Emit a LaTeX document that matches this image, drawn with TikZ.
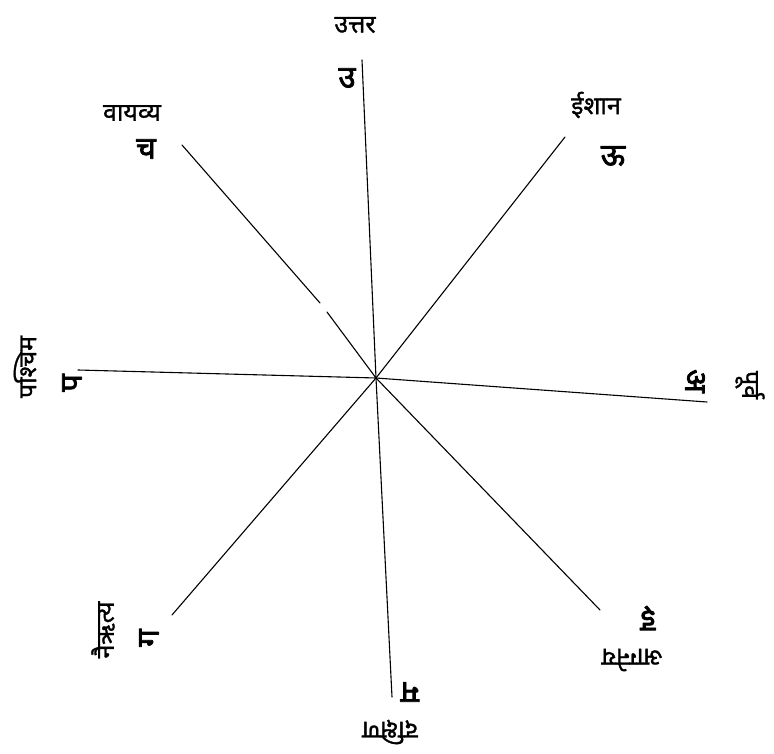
\documentclass[tikz,border=0pt]{standalone}
\usepackage{fontspec}
\newfontfamily\deva[Script=Devanagari,FakeBold=1.2]{Noto Sans}
\newfontfamily\devab[Script=Devanagari,FakeBold=2.5]{Noto Sans}
\begin{document}
\begin{tikzpicture}[x=1pt,y=-1pt,line cap=round,line join=round,
  dirname/.style={font=\deva\fontsize{25}{28}\selectfont,inner sep=0pt},
  dirletter/.style={font=\devab\fontsize{31}{33}\selectfont,inner sep=0pt},
  ray/.style={line width=1.1pt}]
\useasboundingbox (0,0) rectangle (774,754);

\coordinate (O) at (376,378);             % 交点
\coordinate (N) at (362,60);
\coordinate (S) at (392,697);
\coordinate (E) at (707,402);
\coordinate (W) at (78,370);
\coordinate (NE) at (565,137);
\coordinate (NW) at (182,145);
\coordinate (SE) at (600,610);
\coordinate (SW) at (172,615);
\coordinate (G1) at (320,303);            % 西北线的缺口
\coordinate (G2) at (327,312);

\draw[ray] (N)--(O);
\draw[ray] (O)--(S);
\draw[ray] (W)--(O);
\draw[ray] (O)--(E);
\draw[ray] (NE)--(O);
\draw[ray] (NW)--(G1);
\draw[ray] (G2)--(O);
\draw[ray] (O)--(SE);
\draw[ray] (O)--(SW);

\node[dirname] (tN) at (355,25) {उत्तर};
\node[dirletter] (lN) at (347,78) {उ};
\node[dirname] (tNW) at (132,113) {वायव्य};
\node[dirletter] (lNW) at (146,149) {च};
\node[dirname] (tNE) at (596,105) {ईशान};
\node[dirletter] (lNE) at (613,156) {ऊ};
\node[dirname,rotate=90] (tW) at (25,367) {पश्चिम};
\node[dirletter,rotate=90] (lW) at (72,383) {प};
\node[dirname,rotate=-90] (tE) at (750,385) {पूर्व};
\node[dirletter,rotate=-90] (lE) at (695,381) {अ};
\node[dirname,rotate=180] (tS) at (390,732) {दक्षिण};
\node[dirletter,rotate=180] (lS) at (410,692) {म};
\node[dirname,rotate=180] (tSE) at (632,660) {आग्नेय};
\node[dirletter,rotate=180] (lSE) at (648,618) {इ};
\node[dirname,rotate=90] (tSW) at (103,630) {नैऋत्य};
\node[dirletter,rotate=90] (lSW) at (149,638) {ग};
\end{tikzpicture}
\end{document}
